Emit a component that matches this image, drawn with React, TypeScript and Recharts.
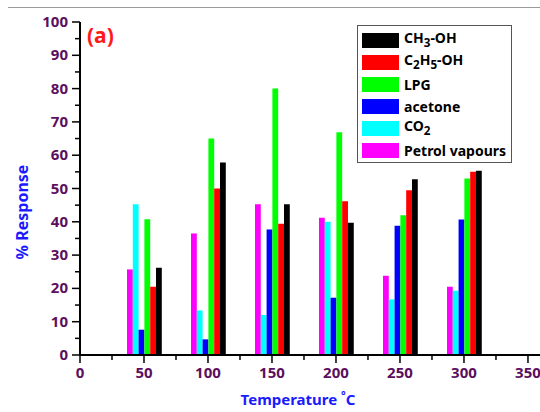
import React from 'react';
import { Bar, BarChart, XAxis, YAxis } from 'recharts';

// Temperature groups (°C)
const temperatures = [50, 100, 150, 200, 250, 300];

// % response per gas, one value per temperature
const petrol = [25.7, 36.5, 45.3, 41.2, 23.8, 20.5];
const co2 = [45.3, 13.4, 12, 40, 16.7, 19.3];
const acetone = [7.6, 4.7, 37.7, 17.2, 38.8, 40.7];
const lpg = [40.8, 65, 80, 66.9, 42, 53];
const ethanol = [20.5, 50, 39.4, 46.2, 49.5, 55];
const methanol = [26.2, 57.8, 45.3, 39.7, 52.8, 55.3];

const xTicks = [0, 25, 50, 75, 100, 125, 150, 175, 200, 225, 250, 275, 300, 325, 350];
const yTicks = [0, 5, 10, 15, 20, 25, 30, 35, 40, 45, 50, 55, 60, 65, 70, 75, 80, 85, 90, 95, 100];

const data = temperatures.map((t, i) => ({
  t,
  petrol: petrol[i],
  co2: co2[i],
  acetone: acetone[i],
  lpg: lpg[i],
  ethanol: ethanol[i],
  methanol: methanol[i],
}));

const FONT = '"Noto Sans", "Open Sans", sans-serif';
const TICK_COLOR = '#5b0f5e';

const XTick = ({ x, y, payload }: any) => {
  const major = payload.value % 50 === 0;
  return (
    <g>
      <line x1={x} y1={y} x2={x} y2={y + (major ? 8 : 5)} stroke="#000" strokeWidth={1.5} />
      {major && (
        <text x={x} y={y + 23} textAnchor="middle" fill={TICK_COLOR} fontSize={15} fontWeight={700} fontFamily={FONT}>
          {payload.value}
        </text>
      )}
    </g>
  );
};

const YTick = ({ x, y, payload }: any) => {
  const major = payload.value % 10 === 0;
  return (
    <g>
      <line x1={x - (major ? 8 : 5)} y1={y} x2={x} y2={y} stroke="#000" strokeWidth={1.5} />
      {major && (
        <text x={x - 12} y={y + 5} textAnchor="end" fill={TICK_COLOR} fontSize={15} fontWeight={700} fontFamily={FONT}>
          {payload.value}
        </text>
      )}
    </g>
  );
};

const legendItems = [
  { color: '#000000', label: <>CH<sub>3</sub>-OH</> },
  { color: '#ff0000', label: <>C<sub>2</sub>H<sub>5</sub>-OH</> },
  { color: '#00ff00', label: <>LPG</> },
  { color: '#0000ff', label: <>acetone</> },
  { color: '#00ffff', label: <>CO<sub>2</sub></> },
  { color: '#ff00ff', label: <>Petrol vapours</> },
];

export default function App() {
  return (
    <div style={{ position: 'absolute', left: 0, top: 0, width: 540, height: 412, background: '#fff', fontFamily: FONT }}>
      <div style={{ position: 'absolute', left: 8, top: 7, width: 532, borderTop: '1px solid #9a9a9a' }} />
      <BarChart
        width={540}
        height={412}
        data={data}
        margin={{ top: 22, right: 0, bottom: 0, left: 0 }}
        barGap={0}
        barSize={5.8}
      >
        <XAxis
          dataKey="t"
          type="number"
          domain={[0, 359.4]}
          ticks={xTicks}
          interval={0}
          height={57}
          tickSize={0}
          tickMargin={0}
          tickLine={false}
          tick={<XTick />}
          axisLine={{ stroke: '#000', strokeWidth: 2 }}
        />
        <YAxis
          type="number"
          domain={[0, 100]}
          ticks={yTicks}
          interval={0}
          width={80}
          tickSize={0}
          tickMargin={0}
          tickLine={false}
          tick={<YTick />}
          axisLine={{ stroke: '#000', strokeWidth: 2 }}
        />
        <Bar dataKey="petrol" fill="#ff00ff" isAnimationActive={false} />
        <Bar dataKey="co2" fill="#00ffff" isAnimationActive={false} />
        <Bar dataKey="acetone" fill="#0000ff" isAnimationActive={false} />
        <Bar dataKey="lpg" fill="#00ff00" isAnimationActive={false} />
        <Bar dataKey="ethanol" fill="#ff0000" isAnimationActive={false} />
        <Bar dataKey="methanol" fill="#000000" isAnimationActive={false} />
      </BarChart>

      <div style={{ position: 'absolute', left: 87, top: 21, color: '#ff1a1a', fontSize: 21, fontWeight: 700 }}>(a)</div>

      <div
        style={{
          position: 'absolute',
          left: 22,
          top: 212,
          transform: 'translate(-50%, -50%) rotate(-90deg)',
          color: '#1a1aff',
          fontSize: 16,
          fontWeight: 700,
          whiteSpace: 'nowrap',
        }}
      >
        % Response
      </div>

      <div
        style={{
          position: 'absolute',
          left: 298,
          top: 398,
          transform: 'translate(-50%, -50%)',
          color: '#1a1aff',
          fontSize: 15,
          fontWeight: 700,
          whiteSpace: 'nowrap',
        }}
      >
        Temperature <sup style={{ fontSize: 11 }}>°</sup>C
      </div>

      <div
        style={{
          position: 'absolute',
          left: 357,
          top: 25,
          width: 155,
          height: 138,
          border: '1px solid #555',
          boxSizing: 'border-box',
          paddingTop: 3,
          background: '#fff',
        }}
      >
        {legendItems.map((item, i) => (
          <div key={i} style={{ display: 'flex', alignItems: 'center', height: 22 }}>
            <div style={{ marginLeft: 4, width: 37, height: 15, background: item.color }} />
            <div style={{ marginLeft: 5, fontSize: 14, fontWeight: 700, color: '#000', lineHeight: '15px', whiteSpace: 'nowrap' }}>
              {item.label}
            </div>
          </div>
        ))}
      </div>
    </div>
  );
}
